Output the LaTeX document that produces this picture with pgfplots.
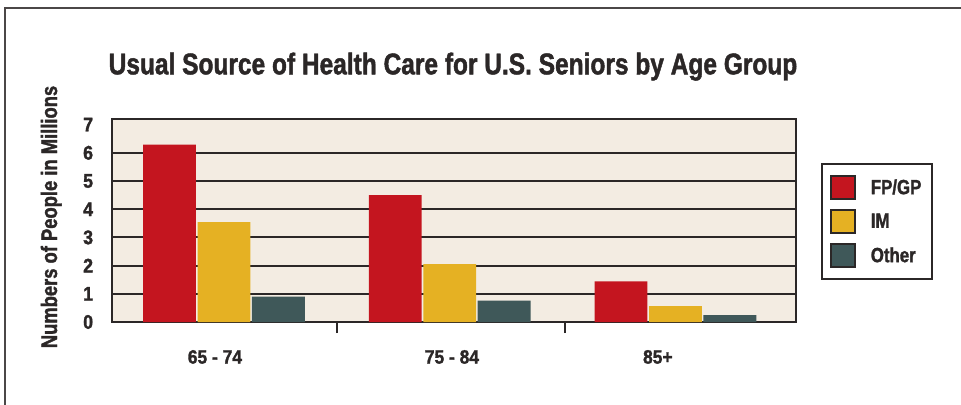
\documentclass[border=0pt]{standalone}
\usepackage{fontspec}
\usepackage{pgfplots}
\pgfplotsset{compat=1.18}
\newfontfamily\condf[FakeStretch=0.82, FakeBold=1.5]{Liberation Sans Bold}
\newfontfamily\tickf[FakeStretch=0.9, FakeBold=1.5]{Liberation Sans Bold}
\definecolor{cred}{HTML}{C4151F}
\definecolor{cyel}{HTML}{E5B123}
\definecolor{cteal}{HTML}{3F5859}
\definecolor{cbg}{HTML}{F3ECE2}
\definecolor{cdark}{HTML}{2B2727}
\begin{document}
\begin{tikzpicture}[x=0.75pt,y=0.75pt]
\useasboundingbox (0,0) rectangle (961,404);
\fill[white] (0,0) rectangle (961,404);
\draw[cdark!85, line width=1.8pt] (5,-5) -- (5,396) -- (970,396);
\node[anchor=base, inner sep=0pt, text=cdark, font=\condf\fontsize{22.4pt}{24pt}\selectfont] at (453,{404-74.3}) {Usual Source of Health Care for U.S. Seniors by Age Group};
\node[rotate=90, anchor=base, inner sep=0pt, text=cdark, font=\condf\fontsize{16.8pt}{18pt}\selectfont] at (57,{404-217}) {Numbers of People in Millions};
\begin{axis}[
  at={(84pt,61.5pt)}, anchor=south west, scale only axis,
  width=513pt, height=152.25pt,
  xmin=-0.496, xmax=2.534, ymin=0, ymax=7.2,
  ybar, bar width=0.234,
  axis background/.style={fill=cbg},
  axis line style={cdark, line width=1.9pt},
  tick style={cdark, line width=1.5pt},
  /pgf/number format/assume math mode=true,
  xtick pos=bottom, ytick pos=left,
  xtick={-0.04,1.01,1.922},
  xticklabels={65 - 74,75 - 84,85+},
  ytick={0,1,2,3,4,5,6,7},
  major tick length=0pt,
  extra x ticks={0.5006,1.51},
  extra x tick labels={},
  extra x tick style={major tick length=8.25pt, tick align=outside},
  extra y ticks={1,2,3,4,5,6},
  extra y tick labels={},
  extra y tick style={ymajorgrids=true, major tick length=0pt},
  grid style={cdark, line width=1.5pt},
  xticklabel style={font=\tickf\fontsize{14.5pt}{15pt}\selectfont, text=cdark, inner sep=0pt, anchor=base, yshift=-31.2pt},
  yticklabel style={font=\tickf\fontsize{14.8pt}{15pt}\selectfont, text=cdark, inner sep=0pt, anchor=east, xshift=-14pt},
  legend style={at={(1.0365,0.783)}, anchor=north west, draw=cdark, line width=1.5pt, fill=white,
    font=\condf\fontsize{15.4pt}{16pt}\selectfont, text=cdark,
    inner xsep=6pt, inner ysep=8.5pt, row sep=7pt},
  legend cell align=left,
  myleg/.style={legend image code/.code={\draw[##1, draw=cdark, line width=1.3pt] (0pt,-8.6pt) rectangle (18pt,8.6pt); \path (28pt,0pt);}},
]
\addplot[fill=cred, draw=none, bar shift=-0.241, myleg] coordinates {(0,6.29) (1,4.5) (2,1.44)};
\addplot[fill=cyel, draw=none, bar shift=0, myleg] coordinates {(0,3.54) (1,2.05) (2,0.56)};
\addplot[fill=cteal, draw=none, bar shift=0.241, myleg] coordinates {(0,0.9) (1,0.76) (2,0.24)};
\legend{FP/GP,IM,Other}
\end{axis}
\end{tikzpicture}
\end{document}
